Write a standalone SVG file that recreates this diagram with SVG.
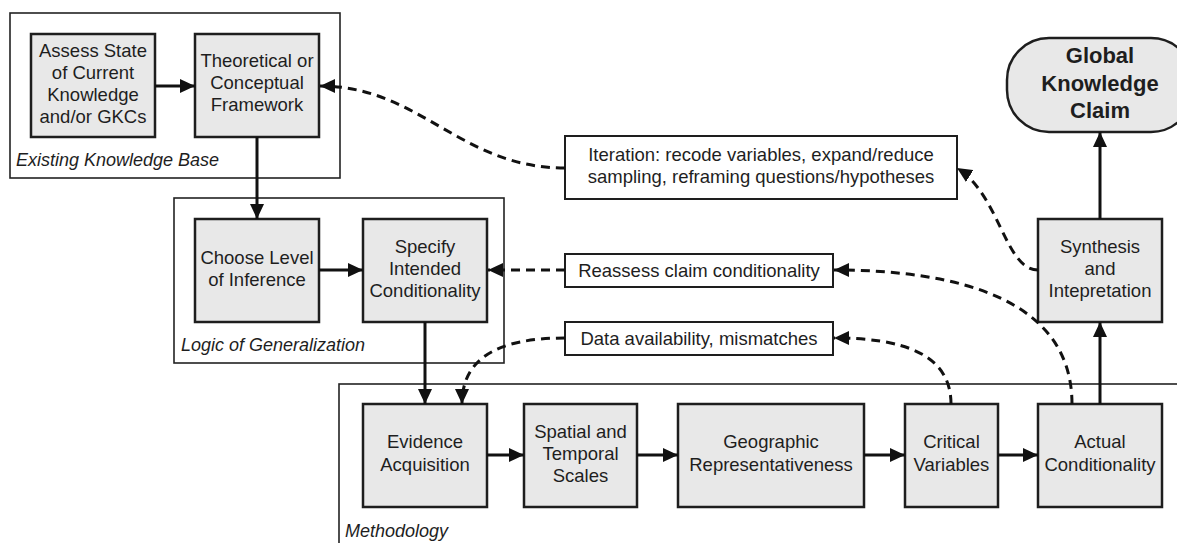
<svg xmlns="http://www.w3.org/2000/svg" width="1177" height="543" viewBox="0 0 1177 543">
<style>
.grp{fill:none;stroke:#222;stroke-width:1.6}
.node{fill:#e8e8e8;stroke:#1e1e1e;stroke-width:2.5}
.note{fill:#fff;stroke:#1e1e1e;stroke-width:2}
.t{font-family:"Liberation Sans",Arial,sans-serif;font-size:18.5px;fill:#1e1e1e;text-anchor:middle}
.gl{font-family:"Liberation Sans",Arial,sans-serif;font-size:18px;font-style:italic;fill:#1e1e1e}
.b{font-family:"Liberation Sans",Arial,sans-serif;font-size:22px;font-weight:bold;fill:#1e1e1e;text-anchor:middle}
.s{fill:none;stroke:#111;stroke-width:3;marker-end:url(#ah)}
.d{fill:none;stroke:#111;stroke-width:3;stroke-dasharray:9 6;marker-end:url(#ah)}
</style>
<defs>
<marker id="ah" markerUnits="userSpaceOnUse" markerWidth="16" markerHeight="14" refX="15" refY="7" orient="auto">
<path d="M0,0 L15,7 L0,14 z" fill="#111"/>
</marker>
</defs>
<rect width="1177" height="543" fill="#fff"/>

<g id="group-existing">
<rect class="grp" x="10" y="13" width="330" height="165"/>
<text class="gl" x="16" y="166">Existing Knowledge Base</text>
</g>
<g id="group-logic">
<rect class="grp" x="174" y="198" width="330" height="165"/>
<text class="gl" x="181" y="351">Logic of Generalization</text>
</g>
<g id="group-methodology">
<rect class="grp" x="339" y="384" width="900" height="200"/>
<text class="gl" x="345" y="537">Methodology</text>
</g>

<g id="assess">
<rect class="node" x="31" y="34" width="124" height="103"/>
<text class="t" x="93" y="57">Assess State</text>
<text class="t" x="93" y="79">of Current</text>
<text class="t" x="93" y="101">Knowledge</text>
<text class="t" x="93" y="123">and/or GKCs</text>
</g>
<g id="theoretical">
<rect class="node" x="195" y="34" width="124" height="103"/>
<text class="t" x="257" y="67">Theoretical or</text>
<text class="t" x="257" y="89">Conceptual</text>
<text class="t" x="257" y="111">Framework</text>
</g>
<g id="choose">
<rect class="node" x="195" y="219" width="124" height="103"/>
<text class="t" x="257" y="264">Choose Level</text>
<text class="t" x="257" y="286">of Inference</text>
</g>
<g id="specify">
<rect class="node" x="363" y="219" width="124" height="103"/>
<text class="t" x="425" y="253">Specify</text>
<text class="t" x="425" y="275">Intended</text>
<text class="t" x="425" y="297">Conditionality</text>
</g>
<g id="evidence">
<rect class="node" x="363" y="404" width="124" height="103"/>
<text class="t" x="425" y="448">Evidence</text>
<text class="t" x="425" y="471">Acquisition</text>
</g>
<g id="spatial">
<rect class="node" x="524" y="404" width="113" height="103"/>
<text class="t" x="580.5" y="438">Spatial and</text>
<text class="t" x="580.5" y="460">Temporal</text>
<text class="t" x="580.5" y="482">Scales</text>
</g>
<g id="geographic">
<rect class="node" x="678" y="404" width="186" height="103"/>
<text class="t" x="771" y="448">Geographic</text>
<text class="t" x="771" y="471">Representativeness</text>
</g>
<g id="critical">
<rect class="node" x="905" y="404" width="93" height="103"/>
<text class="t" x="951.5" y="448">Critical</text>
<text class="t" x="951.5" y="471">Variables</text>
</g>
<g id="actual">
<rect class="node" x="1038" y="404" width="124" height="103"/>
<text class="t" x="1100" y="448">Actual</text>
<text class="t" x="1100" y="471">Conditionality</text>
</g>
<g id="synthesis">
<rect class="node" x="1038" y="219" width="124" height="103"/>
<text class="t" x="1100" y="253">Synthesis</text>
<text class="t" x="1100" y="275">and</text>
<text class="t" x="1100" y="297">Intepretation</text>
</g>
<g id="global">
<rect class="node" x="1007" y="38" width="186" height="94" rx="42" ry="42"/>
<text class="b" x="1100" y="63">Global</text>
<text class="b" x="1100" y="91">Knowledge</text>
<text class="b" x="1100" y="118">Claim</text>
</g>
<g id="iteration">
<rect class="note" x="565" y="136" width="392" height="63"/>
<text class="t" x="761" y="161">Iteration: recode variables, expand/reduce</text>
<text class="t" x="761" y="183">sampling, reframing questions/hypotheses</text>
</g>
<g id="reassess">
<rect class="note" x="565" y="254" width="268" height="33"/>
<text class="t" x="699" y="277">Reassess claim conditionality</text>
</g>
<g id="data">
<rect class="note" x="565" y="322" width="268" height="33"/>
<text class="t" x="699" y="345">Data availability, mismatches</text>
</g>

<g id="connectors">
<path class="s" d="M155,86 H195"/>
<path class="s" d="M257,137 V219"/>
<path class="s" d="M319,270 H363"/>
<path class="s" d="M425,322 V404"/>
<path class="s" d="M487,455 H524"/>
<path class="s" d="M637,455 H678"/>
<path class="s" d="M864,455 H905"/>
<path class="s" d="M998,455 H1038"/>
<path class="s" d="M1100,404 V322"/>
<path class="s" d="M1100,219 V132"/>
<path class="d" d="M565,168 C460,168 420,86 320,86"/>
<path class="d" d="M565,270 H488"/>
<path class="d" d="M565,338 C495,338 462,360 462,404"/>
<path class="d" d="M1038,270 C1005,270 1000,195 957,168"/>
<path class="d" d="M1072,404 C1072,300 960,270 834,270"/>
<path class="d" d="M951,404 C951,355 905,338 834,338"/>
</g>
</svg>
